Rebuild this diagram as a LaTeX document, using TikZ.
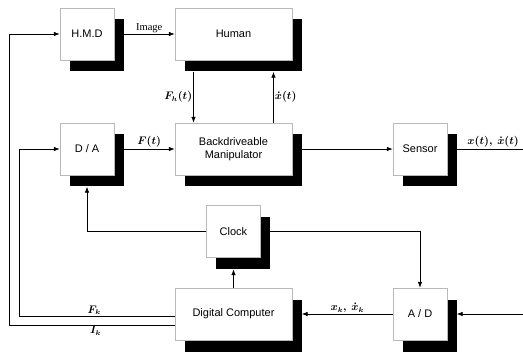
\documentclass[tikz,border=0pt]{standalone}
\usepackage{fontspec}
\setsansfont{Liberation Sans}
\setmainfont{Liberation Serif}
\usetikzlibrary{arrows.meta,shadows}
\begin{document}
\begin{tikzpicture}[x=1pt,y=-1pt,
  box/.style={draw=gray!55, line width=0.4pt, fill=white, inner sep=0pt,
    align=center, font=\sffamily\fontsize{11}{12.5}\selectfont,
    minimum height=52pt,
    drop shadow={shadow xshift=9.5pt, shadow yshift=-11.5pt, fill=black, opacity=1, draw=none}},
  small/.style={box, minimum width=54pt},
  wide/.style={box, minimum width=117pt},
  arr/.style={-{Latex[length=6pt,width=4.5pt]}, line width=0.7pt},
  ln/.style={line width=0.7pt},
  lab/.style={font=\fontsize{10.5}{12}\selectfont\boldmath, inner sep=1pt}]
\useasboundingbox (0,0) rectangle (523,353);
\node[small] (hmd) at (87,34) {H.M.D};
\node[wide] (human) at (233.5,34) {Human};
\node[small] (da) at (87,149) {D / A};
\node[wide] (bm) at (233.5,149) {Backdriveable\\Manipulator};
\node[small] (sensor) at (420,149) {Sensor};
\node[small] (clock) at (233.5,231.5) {Clock};
\node[wide] (dc) at (233.5,314) {Digital Computer};
\node[small] (ad) at (420,314) {A / D};
\coordinate (outR) at (523,149);
\coordinate (inR) at (523,314);
% HMD -> Human
\draw[arr] ([xshift=9.5pt]hmd.east) -- node[lab, above] {Image} (human.west);
% Human <-> BM
\draw[arr] ([xshift=-40pt,yshift=-11.5pt]human.south) -- node[lab, left] {$F_h(t)$} ([xshift=-40pt]bm.north);
\draw[arr] ([xshift=40pt]bm.north) -- node[lab, right] {$\dot{x}(t)$} ([xshift=40pt,yshift=-11.5pt]human.south);
% D/A -> BM
\draw[arr] ([xshift=9.5pt]da.east) -- node[lab, above] {$F(t)$} (bm.west);
% BM -> Sensor
\draw[arr] ([xshift=9.5pt]bm.east) -- (sensor.west);
% Sensor output
\draw[ln] ([xshift=9.5pt]sensor.east) -- node[lab, above, pos=0.55] {$x(t),\ \dot{x}(t)$} (outR);
% Clock -> D/A
\draw[arr] (clock.west) -| ([yshift=-11.5pt]da.south);
% Clock -> A/D
\draw[arr] ([xshift=9.5pt]clock.east) -| (ad.north);
% DC -> Clock
\draw[arr] (dc.north) -- ([yshift=-11.5pt]clock.south);
% A/D -> DC
\draw[arr] (ad.west) -- node[lab, above] {$x_k,\ \dot{x}_k$} ([xshift=9.5pt]dc.east);
% input -> A/D
\draw[arr] (inR) -- ([xshift=9.5pt]ad.east);
% DC -> D/A  (F_k)
\draw[arr] ([yshift=-2pt]dc.west) -- node[lab, above, pos=0.52] {$F_k$} ([xshift=-155pt,yshift=-2pt]dc.west) |- (da.west);
% DC -> HMD  (I_k)
\draw[arr] ([yshift=-11pt]dc.west) -- node[lab, below, pos=0.48] {$I_k$} ([xshift=-165pt,yshift=-11pt]dc.west) |- (hmd.west);
\end{tikzpicture}
\end{document}
